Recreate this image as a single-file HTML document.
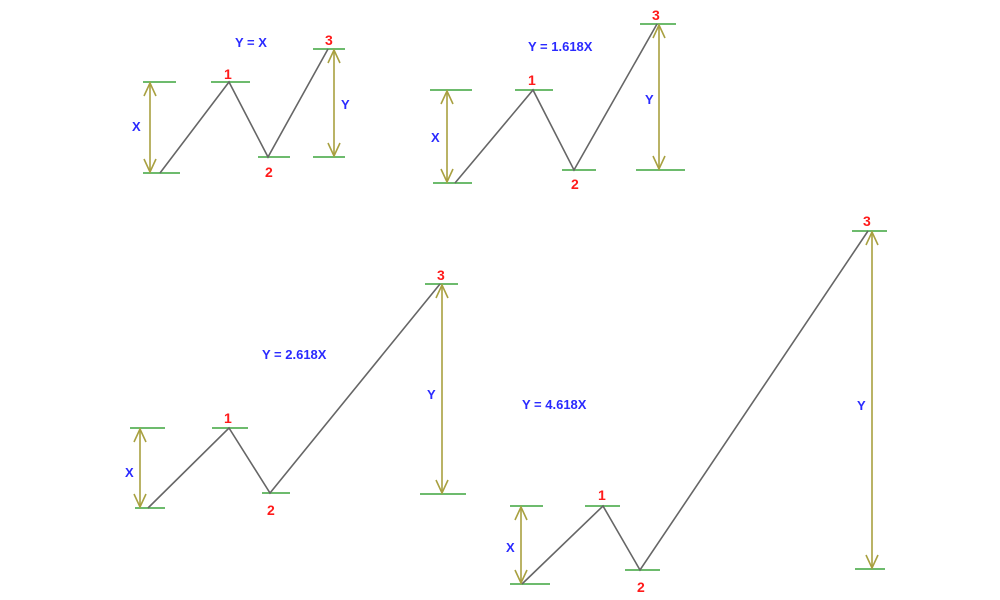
<!DOCTYPE html>
<html><head><meta charset="utf-8"><style>
html,body{margin:0;padding:0;background:#fff;width:1000px;height:600px;overflow:hidden}
text{font-family:"Liberation Sans",sans-serif;font-weight:bold;font-size:13px}
.b{fill:#2a2aff}.r{fill:#ff1a1a;font-size:14px}
.g{stroke:#6dbb6d;stroke-width:2}
.w{stroke:#666;stroke-width:1.6;fill:none}
.a{stroke:#a8a040;stroke-width:1.6;fill:none}
</style></head><body>
<svg width="1000" height="600" xmlns="http://www.w3.org/2000/svg">
<!-- panel 1 -->
<g>
<line class="g" x1="143" y1="82" x2="176" y2="82"/><line class="g" x1="143" y1="173" x2="180" y2="173"/>
<line class="g" x1="211" y1="82" x2="250" y2="82"/><line class="g" x1="258" y1="157" x2="290" y2="157"/>
<line class="g" x1="313" y1="49" x2="345" y2="49"/><line class="g" x1="313" y1="157" x2="345" y2="157"/>
<polyline class="w" points="160,173 229,82 268,157 328,49"/>
<line class="a" x1="150" y1="83" x2="150" y2="172"/><polyline class="a" points="144,96 150,83 156,96"/><polyline class="a" points="144,159 150,172 156,159"/>
<line class="a" x1="334" y1="50" x2="334" y2="156"/><polyline class="a" points="328,63 334,50 340,63"/><polyline class="a" points="328,143 334,156 340,143"/>
<text class="b" x="235" y="47">Y = X</text>
<text class="b" x="132" y="131">X</text><text class="b" x="341" y="109">Y</text>
<text class="r" x="224" y="79">1</text><text class="r" x="265" y="177">2</text><text class="r" x="325" y="45">3</text>
</g>
<!-- panel 2 -->
<g>
<line class="g" x1="430" y1="90" x2="472" y2="90"/><line class="g" x1="433" y1="183" x2="472" y2="183"/>
<line class="g" x1="515" y1="90" x2="553" y2="90"/><line class="g" x1="562" y1="170" x2="596" y2="170"/>
<line class="g" x1="640" y1="24" x2="676" y2="24"/><line class="g" x1="636" y1="170" x2="685" y2="170"/>
<polyline class="w" points="455,183 533,90 574,170 657,24"/>
<line class="a" x1="447" y1="91" x2="447" y2="182"/><polyline class="a" points="441,104 447,91 453,104"/><polyline class="a" points="441,169 447,182 453,169"/>
<line class="a" x1="659" y1="25" x2="659" y2="169"/><polyline class="a" points="653,38 659,25 665,38"/><polyline class="a" points="653,156 659,169 665,156"/>
<text class="b" x="528" y="51">Y = 1.618X</text>
<text class="b" x="431" y="142">X</text><text class="b" x="645" y="104">Y</text>
<text class="r" x="528" y="85">1</text><text class="r" x="571" y="189">2</text><text class="r" x="652" y="20">3</text>
</g>
<!-- panel 3 -->
<g>
<line class="g" x1="130" y1="428" x2="165" y2="428"/><line class="g" x1="135" y1="508" x2="165" y2="508"/>
<line class="g" x1="212" y1="428" x2="248" y2="428"/><line class="g" x1="262" y1="493" x2="290" y2="493"/>
<line class="g" x1="425" y1="284" x2="458" y2="284"/><line class="g" x1="420" y1="494" x2="466" y2="494"/>
<polyline class="w" points="148,508 229,428 270,493 440,284"/>
<line class="a" x1="140" y1="429" x2="140" y2="507"/><polyline class="a" points="134,442 140,429 146,442"/><polyline class="a" points="134,494 140,507 146,494"/>
<line class="a" x1="442" y1="285" x2="442" y2="493"/><polyline class="a" points="436,298 442,285 448,298"/><polyline class="a" points="436,480 442,493 448,480"/>
<text class="b" x="262" y="359">Y = 2.618X</text>
<text class="b" x="125" y="477">X</text><text class="b" x="427" y="399">Y</text>
<text class="r" x="224" y="423">1</text><text class="r" x="267" y="515">2</text><text class="r" x="437" y="280">3</text>
</g>
<!-- panel 4 -->
<g>
<line class="g" x1="510" y1="506" x2="543" y2="506"/><line class="g" x1="510" y1="584" x2="550" y2="584"/>
<line class="g" x1="585" y1="506" x2="620" y2="506"/><line class="g" x1="625" y1="570" x2="660" y2="570"/>
<line class="g" x1="852" y1="231" x2="887" y2="231"/><line class="g" x1="855" y1="569" x2="885" y2="569"/>
<polyline class="w" points="522,584 603,506 640,570 868,231"/>
<line class="a" x1="521" y1="507" x2="521" y2="583"/><polyline class="a" points="515,520 521,507 527,520"/><polyline class="a" points="515,570 521,583 527,570"/>
<line class="a" x1="872" y1="232" x2="872" y2="568"/><polyline class="a" points="866,245 872,232 878,245"/><polyline class="a" points="866,555 872,568 878,555"/>
<text class="b" x="522" y="409">Y = 4.618X</text>
<text class="b" x="506" y="552">X</text><text class="b" x="857" y="410">Y</text>
<text class="r" x="598" y="500">1</text><text class="r" x="637" y="592">2</text><text class="r" x="863" y="226">3</text>
</g>
</svg>
</body></html>
